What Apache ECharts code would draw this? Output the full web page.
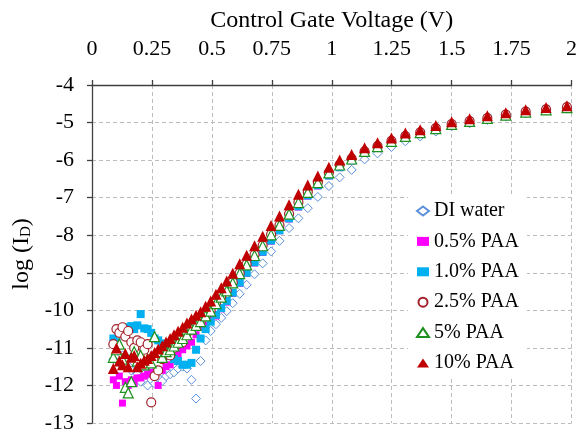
<!DOCTYPE html>
<html>
<head>
<meta charset="utf-8">
<script src="https://cdn.jsdelivr.net/npm/echarts@6/dist/echarts.min.js"></script>
<style>
html,body{margin:0;padding:0;background:#fff;}
#chart{width:580px;height:434px;}
</style>
</head>
<body>
<div id="chart"></div>
<script>
// Control gate voltage (V), shared sweep
const voltage = [0.089, 0.102, 0.114, 0.127, 0.139, 0.151, 0.164, 0.176, 0.189,
  0.203, 0.218, 0.232, 0.247, 0.261, 0.276, 0.293, 0.309, 0.326, 0.342, 0.359, 0.378, 0.396, 0.415, 0.434, 0.453, 0.474, 0.495,
  0.517, 0.539, 0.562, 0.587, 0.616, 0.645, 0.678, 0.712, 0.747, 0.782, 0.822, 0.861, 0.900, 0.942, 0.988, 1.033, 1.083, 1.137, 1.191, 1.249, 1.307, 1.369, 1.434, 1.500, 1.575, 1.649, 1.726, 1.809, 1.894, 1.981];

const diWater = [-11.3, -11.0, -11.4, -11.2, -11.5, -11.3, -11.6, -11.4, -11.7,
  -11.9, -11.7, -12.0, -11.85, -11.95, -11.8, -11.88, -11.75, -11.7, -11.65, -11.55, -11.5, -11.55, -11.85, -12.35, -11.35, -10.8, -10.55,
  -10.37, -10.20, -10.02, -9.81, -9.56, -9.32, -9.04, -8.75, -8.43, -8.15, -7.81, -7.55, -7.28, -6.98, -6.69, -6.46, -6.26, -5.98, -5.82, -5.65, -5.50, -5.37, -5.24, -5.10, -5.02, -4.93, -4.84, -4.75, -4.68, -4.63];

const paa05 = [-11.85, -12.0, -11.75, -12.47, -11.9, -12.0, -11.85, -11.95, -11.8,
  -11.8, -11.75, -11.7, -11.65, -11.7, -12.0, -11.6, -11.5, -11.45, -11.3, -11.15, -11.05, -10.95, -10.85, -10.65, -10.45, -10.4, -10.25,
  -10.15, -9.96, -9.78, -9.55, -9.28, -9.02, -8.74, -8.46, -8.16, -7.88, -7.57, -7.25, -6.96, -6.69, -6.42, -6.20, -6.02, -5.82, -5.67, -5.53, -5.39, -5.29, -5.18, -5.07, -4.99, -4.90, -4.82, -4.74, -4.67, -4.62];

const paa10 = [-10.75, -10.85, -10.6, -10.5, -10.55, -10.45, -10.42, -10.5, -10.4,
  -10.1, -10.48, -10.5, -10.6, -10.75, -10.8, -10.88, -11.05, -11.2, -11.3, -11.35, -11.45, -11.45, -11.4, -11.05, -10.75, -10.5, -10.3,
  -10.12, -9.94, -9.75, -9.53, -9.26, -9.00, -8.72, -8.44, -8.14, -7.87, -7.55, -7.23, -6.94, -6.67, -6.41, -6.19, -6.01, -5.81, -5.66, -5.52, -5.38, -5.28, -5.17, -5.06, -4.98, -4.89, -4.81, -4.73, -4.66, -4.61];

const paa25 = [-10.9, -10.5, -10.6, -10.45, -10.7, -10.55, -10.85, -11.0, -10.8,
  -10.85, -11.05, -10.9, -12.45, -11.75, -11.6, -11.3, -11.15, -11.2, -11.0, -10.9, -10.85, -10.6, -10.5, -10.4, -10.3, -10.15, -10.0,
  -9.80, -9.63, -9.47, -9.25, -9.01, -8.77, -8.52, -8.27, -7.98, -7.73, -7.43, -7.12, -6.85, -6.59, -6.33, -6.12, -5.96, -5.77, -5.63, -5.49, -5.36, -5.26, -5.15, -5.04, -4.96, -4.88, -4.79, -4.71, -4.65, -4.59];

const paa5 = [-11.25, -11.05, -10.9, -11.3, -12.05, -12.2, -11.9, -11.1, -11.35,
  -11.2, -11.45, -11.3, -11.4, -10.7, -11.1, -11.25, -11.1, -11.05, -10.95, -10.85, -10.75, -10.65, -10.5, -10.4, -10.3, -10.15, -10.02,
  -9.82, -9.65, -9.48, -9.27, -9.02, -8.79, -8.54, -8.28, -7.99, -7.74, -7.44, -7.13, -6.86, -6.60, -6.34, -6.13, -5.97, -5.77, -5.64, -5.50, -5.37, -5.27, -5.16, -5.05, -4.97, -4.89, -4.80, -4.72, -4.66, -4.60];

const paa100 = [-11.55, -11.0, -11.35, -11.45, -11.15, -11.5, -11.25, -11.2, -11.5,
  -11.41, -11.33, -11.28, -11.20, -11.12, -11.03, -10.94, -10.84, -10.75, -10.65, -10.56, -10.45, -10.34, -10.23, -10.13, -10.04, -9.89, -9.75,
  -9.57, -9.40, -9.22, -9.01, -8.76, -8.53, -8.28, -8.03, -7.74, -7.49, -7.19, -6.91, -6.66, -6.42, -6.19, -6.00, -5.85, -5.67, -5.54, -5.41, -5.28, -5.19, -5.08, -4.98, -4.90, -4.82, -4.74, -4.66, -4.60, -4.55];

const seriesNames = ['DI water', '0.5% PAA', '1.0% PAA', '2.5% PAA', '5% PAA', '10% PAA'];
const seriesValues = [diWater, paa05, paa10, paa25, paa5, paa100];

const xMin = 0, xMax = 2, xStep = 0.25;
const yMin = -13, yMax = -4, yStep = 1;

const FONT = '"Liberation Serif", "Times New Roman", serif';

const styles = [
  {symbol: 'diamond', size: 9, color: '#fff', border: '#5b8fd8', bw: 1},
  {symbol: 'rect', size: 7, color: '#ff00ff', border: '#ff00ff', bw: 0},
  {symbol: 'rect', size: 8, color: '#00b0f0', border: '#00b0f0', bw: 0},
  {symbol: 'circle', size: 9, color: '#fff', border: '#a3202a', bw: 1.2},
  {symbol: 'triangle', size: 10, color: '#fff', border: '#1f8f1f', bw: 1.2},
  {symbol: 'triangle', size: 11, color: '#c00000', border: '#c00000', bw: 0}
];

const series = seriesNames.map((name, i) => ({
  name: name,
  type: 'scatter',
  symbol: styles[i].symbol,
  symbolSize: styles[i].size,
  itemStyle: {color: styles[i].color, borderColor: styles[i].border, borderWidth: styles[i].bw, opacity: 1},
  data: voltage.map((v, k) => [v, seriesValues[i][k]]),
  z: 2 + i
}));

const chart = echarts.init(document.getElementById('chart'), null, {renderer: 'canvas'});
chart.setOption({
  animation: false,
  backgroundColor: '#fff',
  grid: {left: 92, top: 85, right: 4, bottom: 8, containLabel: false},
  xAxis: {
    type: 'value', position: 'top', min: xMin, max: xMax, interval: xStep,
    name: 'Control Gate Voltage (V)', nameLocation: 'middle', nameGap: 52,
    nameTextStyle: {fontFamily: FONT, fontSize: 24, color: '#000'},
    axisLine: {show: true, lineStyle: {color: '#404040', width: 1.3}},
    axisTick: {show: true, inside: false, length: 5, lineStyle: {color: '#404040', width: 1.3}},
    axisLabel: {fontFamily: FONT, fontSize: 22, color: '#000', margin: 25},
    splitLine: {show: true, lineStyle: {color: '#bdbdbd', type: [4, 3], width: 1}}
  },
  yAxis: {
    type: 'value', min: yMin, max: yMax, interval: yStep,
    name: '{n|log (I}{s|D}{n|)}', nameLocation: 'middle', nameGap: 56,
    nameTextStyle: {fontFamily: FONT, fontSize: 24, color: '#000', padding: [0, 0, 0, 0],
      rich: {n: {fontFamily: FONT, fontSize: 24, color: '#000'}, s: {fontFamily: FONT, fontSize: 15, color: '#000', verticalAlign: 'bottom', padding: [10, 0, 0, 0]}}},
    axisLine: {show: true, lineStyle: {color: '#404040', width: 1.3}},
    axisTick: {show: true, inside: false, length: 5, lineStyle: {color: '#404040', width: 1.3}},
    axisLabel: {fontFamily: FONT, fontSize: 22, color: '#000', margin: 18},
    splitLine: {show: true, lineStyle: {color: '#bdbdbd', type: [4, 3], width: 1}}
  },
  legend: {
    data: seriesNames,
    orient: 'vertical', left: 408, top: 196,
    backgroundColor: '#fff', padding: [4, 8, 4, 8],
    itemWidth: 12, itemHeight: 9, itemGap: 8.4,
    textStyle: {fontFamily: FONT, fontSize: 20, color: '#000', lineHeight: 22}
  },
  series: series
});
</script>
</body>
</html>
